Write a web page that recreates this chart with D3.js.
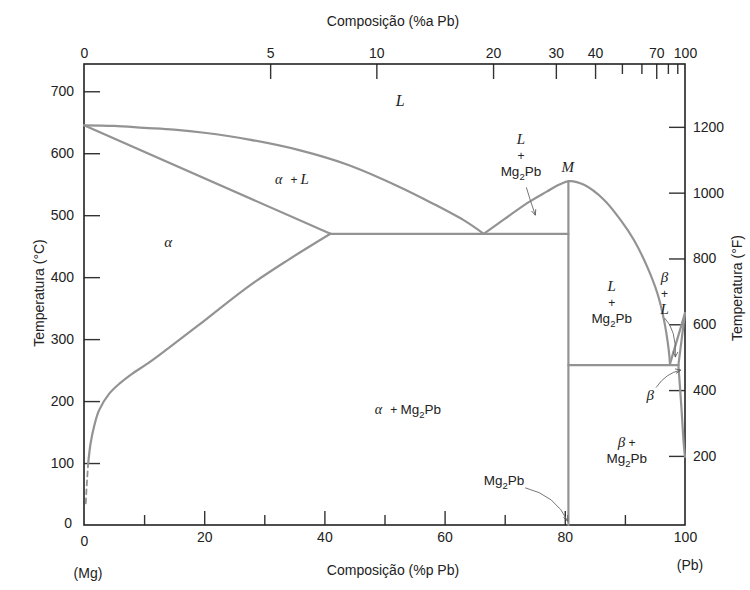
<!doctype html>
<html lang="pt">
  <head>
    <meta charset="UTF-8" />
    <title>Diagrama de fases Mg-Pb</title>
    <style>
      body { margin: 0; background: #fff; }
      svg text { font-family: "Liberation Sans", Arial, sans-serif; fill: #222; }
      .phase-it { font-family: "Liberation Serif", "DejaVu Serif", serif; font-style: italic; }
    </style>
  </head>
  <body>
    <svg id="chart"></svg>
    <script src="https://d3js.org/d3.v7.min.js"></script>
    <script>
      /* global d3 */

      // axis ticks
      const wtTicks = [0, 20, 40, 60, 80, 100];
      const wtMinor = [10, 30, 50, 70, 90];
      const atTicks = [0, 5, 10, 20, 30, 40, 70, 100];
      const atMinor = [50, 60, 80, 90];
      const tempCTicks = [0, 100, 200, 300, 400, 500, 600, 700];
      const tempFTicks = [200, 400, 600, 800, 1000, 1200];

      // phase boundaries, [wt% Pb, T in °C]
      const liquidusMg = [[0, 645], [5, 644], [10, 641], [15, 638], [20, 633], [27.5, 622], [35.8, 605], [44, 581], [52.4, 546], [58, 519], [63.5, 490], [66.5, 470]];
      const solidusMg = [[0, 645], [41, 470]];
      const solvusMg = [[0.7, 100], [1.1, 132], [1.7, 160], [2.5, 185], [4.2, 212], [6, 229], [8, 244], [10.8, 262], [14, 285], [19, 322], [27.5, 386], [34, 428], [41, 470]];
      const solvusMgDashed = [[0.3, 35], [0.4, 55], [0.55, 78], [0.7, 100]];
      const eutecticMg = [[41, 470], [80.6, 470]];
      const liquidusMg2Pb = [[66.5, 470], [70, 494], [74, 521], [77, 538], [79, 549], [80.8, 555], [83.2, 549], [86.5, 525], [89.3, 492], [91.5, 460], [93.7, 417], [95.4, 374], [96.5, 331], [97.3, 282], [97.5, 260]];
      const lineMg2Pb = [[80.6, 0], [80.6, 555]];
      const eutecticPb = [[80.6, 258], [98.9, 258]];
      const liquidusPb = [[97.5, 260], [100, 342]];
      const solidusPb = [[98.9, 258], [100, 342]];
      const solvusPb = [[98.9, 258], [99.4, 190], [99.8, 130], [100, 110]];

      // labels: text lines, anchor in [wt%, °C]
      const phaseLabels = [
        { lines: ["L"], at: [52.6, 677] },
        { lines: ["α  + L"], at: [34.6, 550] },
        { lines: ["α"], at: [14, 449] },
        { lines: ["L", "+", "Mg₂Pb"], at: [72.7, 615] },
        { lines: ["M"], at: [80.5, 570] },
        { lines: ["L", "+", "Mg₂Pb"], at: [87.8, 378] },
        { lines: ["β", "+", "L"], at: [96.6, 392] },
        { lines: ["β"], at: [94.2, 202] },
        { lines: ["β +", "Mg₂Pb"], at: [90.3, 126] },
        { lines: ["Mg₂Pb"], at: [69.9, 65] },
      ];

      // arrows: [from, control, to] in [wt%, °C]
      const arrows = [
        [[73.6, 545], [74.2, 525], [75.1, 500]],
        [[73.4, 60], [78.5, 48], [80.5, 6]],
        [[96.6, 334], [98.6, 315], [98.4, 271]],
        [[95.2, 222], [96.8, 245], [99.3, 250]],
      ];

      const width = 750, height = 590;
      const svg = d3.select("#chart").attr("width", width).attr("height", height);

      const x = d3.scaleLinear().domain([0, 100]).range([84, 685]);
      const y = d3.scaleLinear().domain([0, 744]).range([525, 64]);
      const yF = d3.scaleLinear().domain([-10, 1391]).range([525, 64]);

      // at% Pb -> wt% Pb
      const mPb = 207.2, mMg = 24.305;
      const atToWt = (a) => (a * mPb) / (a * mPb + (100 - a) * mMg) * 100;

      const tickStroke = "#333";

      // left axis (°C)
      const gL = svg.append("g").attr("transform", `translate(${x.range()[0]},0)`)
        .call(d3.axisLeft(y).tickValues(tempCTicks).tickSize(-16).tickPadding(10));
      // right axis (°F)
      const gR = svg.append("g").attr("transform", `translate(${x.range()[1]},0)`)
        .call(d3.axisRight(yF).tickValues(tempFTicks).tickSize(-16).tickPadding(8).tickFormat(d3.format("d")));
      // bottom axis (wt%)
      const gB = svg.append("g").attr("transform", `translate(0,${y.range()[0]})`)
        .call(d3.axisBottom(x).tickValues(wtTicks).tickSize(-14).tickPadding(7));
      const gBm = svg.append("g").attr("transform", `translate(0,${y.range()[0]})`)
        .call(d3.axisBottom(x).tickValues(wtMinor).tickSize(-10).tickFormat(""));
      // top axis (at%)
      const gT = svg.append("g").attr("transform", `translate(0,${y.range()[1]})`)
        .call(d3.axisTop(x).tickValues(atTicks.map(atToWt)).tickSize(-15).tickPadding(6)
          .tickFormat((d, i) => atTicks[i]));
      const gTm = svg.append("g").attr("transform", `translate(0,${y.range()[1]})`)
        .call(d3.axisTop(x).tickValues(atMinor.map(atToWt)).tickSize(-10).tickFormat(""));

      [gL, gR, gB, gBm, gT, gTm].forEach((g) => {
        g.select(".domain").remove();
        g.selectAll(".tick line").attr("stroke", tickStroke).attr("stroke-width", 1.4);
        g.selectAll(".tick text").attr("font-size", 14).attr("fill", "#222")
          .attr("font-family", "Liberation Sans, Arial, sans-serif");
      });
      // the 0 and 100 ticks sit on the frame
      gB.selectAll(".tick line").filter((d) => d === 0 || d === 100).remove();
      gT.selectAll(".tick line").filter((d, i) => i === 0 || i === atTicks.length - 1).remove();
      gL.selectAll(".tick line").filter((d) => d === 0).remove();
      gL.selectAll(".tick text").filter((d) => d === 0).attr("x", -12).attr("dy", "0.2em");
      gB.selectAll(".tick text").filter((d) => d === 0).attr("dy", "1.0em");

      // frame
      svg.append("rect")
        .attr("x", x(0)).attr("y", y.range()[1])
        .attr("width", x(100) - x(0)).attr("height", y.range()[0] - y.range()[1])
        .attr("fill", "none").attr("stroke", "#222").attr("stroke-width", 1.6);

      // phase boundaries
      const smooth = d3.line().x((d) => x(d[0])).y((d) => y(d[1])).curve(d3.curveCatmullRom.alpha(0.5));
      const straight = d3.line().x((d) => x(d[0])).y((d) => y(d[1]));
      const lineColor = "#939393";
      const gLines = svg.append("g").attr("fill", "none").attr("stroke", lineColor)
        .attr("stroke-width", 2.2).attr("stroke-linecap", "round");
      [liquidusMg, solvusMg, liquidusMg2Pb, solvusPb].forEach((d) => gLines.append("path").attr("d", smooth(d)));
      [solidusMg, eutecticMg, lineMg2Pb, eutecticPb, liquidusPb, solidusPb].forEach((d) => gLines.append("path").attr("d", straight(d)));
      gLines.append("path").attr("d", smooth(solvusMgDashed)).attr("stroke-dasharray", "5,4").attr("stroke-width", 1.8);

      // axis titles
      const titleSize = 14;
      svg.append("text").attr("x", 393).attr("y", 26).attr("text-anchor", "middle")
        .attr("font-size", titleSize).text("Composição (%a Pb)");
      svg.append("text").attr("x", 393).attr("y", 575).attr("text-anchor", "middle")
        .attr("font-size", titleSize).text("Composição (%p Pb)");
      svg.append("text").attr("x", 88).attr("y", 578).attr("text-anchor", "middle")
        .attr("font-size", titleSize).text("(Mg)");
      svg.append("text").attr("x", 690).attr("y", 570).attr("text-anchor", "middle")
        .attr("font-size", titleSize).text("(Pb)");
      svg.append("text").attr("transform", "translate(44,293) rotate(-90)").attr("text-anchor", "middle")
        .attr("font-size", titleSize).text("Temperatura (°C)");
      svg.append("text").attr("transform", "translate(742,288) rotate(-90)").attr("text-anchor", "middle")
        .attr("font-size", titleSize).text("Temperatura (°F)");

      // phase labels
      const lineH = 16;
      const addMg2Pb = (parent) => {
        parent.append("tspan").attr("font-size", 13.5).text("Mg");
        parent.append("tspan").attr("font-size", 9.5).attr("dy", 4).text("2");
        parent.append("tspan").attr("font-size", 13.5).attr("dy", -4).text("Pb");
      };
      phaseLabels.forEach((lab) => {
        const t = svg.append("text").attr("text-anchor", "middle")
          .attr("x", x(lab.at[0])).attr("y", y(lab.at[1]));
        lab.lines.forEach((s, i) => {
          const ts = t.append("tspan").attr("x", x(lab.at[0])).attr("dy", i === 0 ? 0 : lineH);
          if (s === "Mg₂Pb") {
            addMg2Pb(ts);
          } else if (s === "+") {
            ts.attr("font-size", 12).text("+");
          } else if (s === "β +") {
            ts.append("tspan").attr("class", "phase-it").attr("font-size", 15).text("β");
            ts.append("tspan").attr("font-size", 12).text(" +");
          } else if (s === "α  + L") {
            ts.attr("class", "phase-it").attr("font-size", 14).text("α");
            t.append("tspan").attr("dx", 8).attr("font-size", 12).text("+");
            t.append("tspan").attr("class", "phase-it").attr("dx", 3).attr("font-size", 15).text("L");
          } else {
            ts.attr("class", "phase-it").attr("font-size", lab.lines.length === 1 && s === "L" ? 16 : 15).text(s);
          }
        });
      });
      // α + Mg2Pb label with the α in italics
      const am = svg.append("text").attr("x", x(53.9)).attr("y", y(179)).attr("text-anchor", "middle");
      am.append("tspan").attr("class", "phase-it").attr("font-size", 14).text("α");
      am.append("tspan").attr("dx", 8).attr("font-size", 12).text("+ ");
      addMg2Pb(am);

      // arrows
      svg.append("defs").append("marker")
        .attr("id", "head").attr("viewBox", "0 0 8 8").attr("refX", 7).attr("refY", 4)
        .attr("markerWidth", 7).attr("markerHeight", 7).attr("orient", "auto")
        .append("path").attr("d", "M0,1 L7,4 L0,7").attr("fill", "none")
        .attr("stroke", "#555").attr("stroke-width", 1);
      arrows.forEach((a) => {
        const p = d3.path();
        p.moveTo(x(a[0][0]), y(a[0][1]));
        p.quadraticCurveTo(x(a[1][0]), y(a[1][1]), x(a[2][0]), y(a[2][1]));
        svg.append("path").attr("d", p.toString()).attr("fill", "none")
          .attr("stroke", "#666").attr("stroke-width", 0.9).attr("marker-end", "url(#head)");
      });
    </script>
  </body>
</html>
